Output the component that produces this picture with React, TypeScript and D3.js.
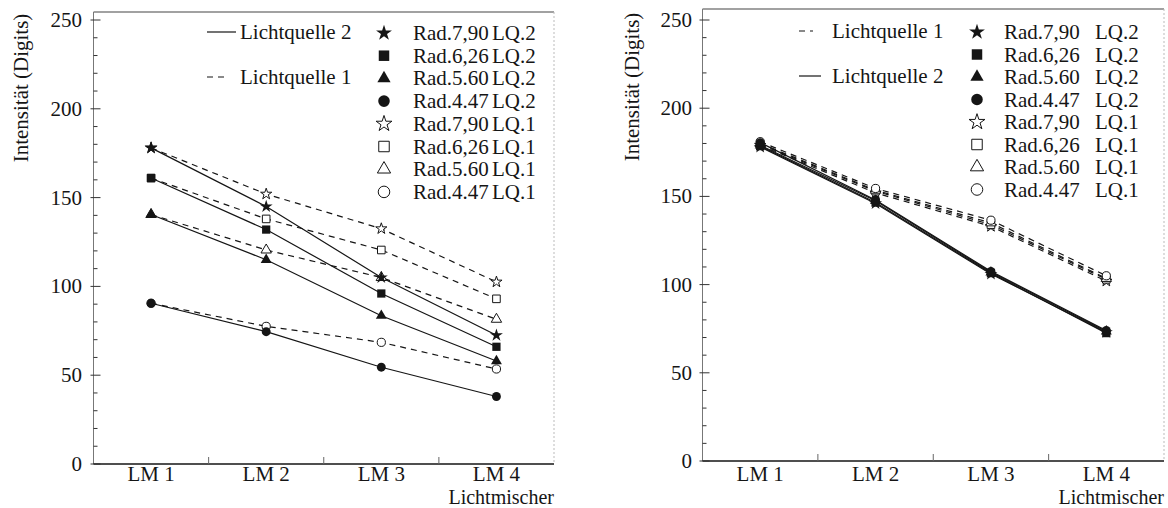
import React, { useEffect } from "react";
import * as d3 from "d3";

// ---------- data ----------
const categories = ["LM 1", "LM 2", "LM 3", "LM 4"];
const radiusLabels = ["Rad.7,90", "Rad.6,26", "Rad.5.60", "Rad.4.47"];
const yMajorTicks = [0, 50, 100, 150, 200, 250];
const yMinorTicks = [10, 20, 30, 40, 60, 70, 80, 90, 110, 120, 130, 140, 160, 170, 180, 190, 210, 220, 230, 240];

// left panel – Lichtquelle 2 (solid, filled markers)
const leftLQ2_790 = [178, 145, 105, 72.5];
const leftLQ2_626 = [161, 132, 96, 66];
const leftLQ2_560 = [140.5, 115, 83.5, 58];
const leftLQ2_447 = [90.5, 74.5, 54.5, 38];
// left panel – Lichtquelle 1 (dashed, open markers)
const leftLQ1_790 = [178, 152, 132.5, 102.5];
const leftLQ1_626 = [161, 138, 120.5, 93];
const leftLQ1_560 = [140.5, 120.5, 105, 81.5];
const leftLQ1_447 = [90.5, 77.5, 68.5, 53.5];

// right panel – Lichtquelle 2 (solid, filled markers)
const rightLQ2_790 = [178, 146, 106, 73];
const rightLQ2_626 = [178.5, 146.5, 106.5, 72.5];
const rightLQ2_560 = [179, 147.5, 107, 73.5];
const rightLQ2_447 = [180.5, 148, 107.5, 74];
// right panel – Lichtquelle 1 (dashed, open markers)
const rightLQ1_790 = [179, 152, 133, 102];
const rightLQ1_626 = [179.5, 153, 134, 103];
const rightLQ1_560 = [180, 153.5, 135, 103.5];
const rightLQ1_447 = [181, 154.5, 136.5, 105];

const legendLineLabels = ["Lichtquelle 2", "Lichtquelle 1"];

// ---------- styling ----------
const FONT = "'Times New Roman', 'Liberation Serif', 'DejaVu Serif', serif";
const FS = 21;
const INK = "#151515";
const symbolTypes = [d3.symbolStar, d3.symbolSquare, d3.symbolTriangle, d3.symbolCircle];
const plotSizes = [52, 68, 52, 62];
const openScale = [0.75, 0.85, 0.9, 0.85];
const legendSizes = [78, 110, 76, 105];

type Layout = {
  x0: number; x1: number; yZero: number; y250: number; frameTop: number;
  yLabelX: number; titleX: number; titleY: number;
  catLabelY: number; xTitleY: number;
  legLineX0: number; legLineX1: number; legTextX: number;
  legFirstY: number; legSecondY: number; firstDashed: boolean;
  symX: number; radX: number; lqX: number; rowY0: number; rowDy: number;
};

const leftLayout: Layout = {
  x0: 93.5, x1: 554, yZero: 464, y250: 20, frameTop: 12,
  yLabelX: 82, titleX: 21, titleY: 88,
  catLabelY: 481, xTitleY: 503.5,
  legLineX0: 207, legLineX1: 236, legTextX: 240,
  legFirstY: 32, legSecondY: 77, firstDashed: false,
  symX: 384, radX: 413, lqX: 492, rowY0: 33, rowDy: 22.7,
};

const rightLayout: Layout = {
  x0: 702.5, x1: 1164, yZero: 461, y250: 20, frameTop: 9,
  yLabelX: 692, titleX: 632, titleY: 87,
  catLabelY: 481, xTitleY: 503.5,
  legLineX0: 799, legLineX1: 821, legTextX: 832,
  legFirstY: 31, legSecondY: 76, firstDashed: true,
  symX: 977, radX: 1004, lqX: 1095, rowY0: 32, rowDy: 22.5,
};

type PanelProps = { layout: Layout; lq2: number[][]; lq1: number[][] };

function Panel({ layout: L, lq2, lq1 }: PanelProps) {
  const x = d3.scaleBand<string>().domain(categories).range([L.x0, L.x1]);
  const y = d3.scaleLinear().domain([0, 250]).range([L.yZero, L.y250]);
  const cx = (i: number) => (x(categories[i]) as number) + x.bandwidth() / 2;
  const line = d3
    .line<number>()
    .x((_, i) => cx(i))
    .y((d) => y(d));
  const boundaries = categories.slice(1).map((c) => x(c) as number);
  const sym = (t: d3.SymbolType, s: number) => d3.symbol().type(t).size(s)() as string;

  const legendLine = (yy: number, dashed: boolean, label: string) => (
    <g>
      {dashed ? (
        <line x1={L.legLineX0} x2={L.legLineX1 - 8} y1={yy} y2={yy} stroke={INK} strokeWidth={1.2} strokeDasharray="6,5" />
      ) : (
        <line x1={L.legLineX0} x2={L.legLineX1} y1={yy} y2={yy} stroke={INK} strokeWidth={1.2} />
      )}
      <text x={L.legTextX} y={yy + 7}>{label}</text>
    </g>
  );

  return (
    <g style={{ fontFamily: FONT, fontSize: FS }} fill={INK}>
      {/* frame */}
      <line x1={L.x0} x2={L.x1} y1={L.frameTop} y2={L.frameTop} stroke="#444" strokeWidth={1.2} />
      <line x1={L.x1} x2={L.x1} y1={L.frameTop} y2={L.yZero} stroke="#bbb" strokeWidth={1} strokeDasharray="2,2" />
      <line x1={L.x0} x2={L.x0} y1={L.frameTop} y2={L.yZero} stroke="#777" strokeWidth={1} />
      <line x1={L.x0} x2={L.x1} y1={L.yZero} y2={L.yZero} stroke={INK} strokeWidth={1.6} />

      {/* y ticks */}
      {yMajorTicks.map((t) => (
        <g key={"M" + t}>
          <line x1={L.x0 - 3} x2={L.x0 + 7} y1={y(t)} y2={y(t)} stroke="#333" strokeWidth={1} />
          <text x={L.yLabelX} y={y(t) + 7} textAnchor="end">{t}</text>
        </g>
      ))}
      {yMinorTicks.map((t) => (
        <line key={"m" + t} x1={L.x0} x2={L.x0 + 4} y1={y(t)} y2={y(t)} stroke="#333" strokeWidth={1} />
      ))}

      {/* x ticks */}
      {boundaries.map((b) => (
        <line key={b} x1={b} x2={b} y1={L.yZero} y2={L.yZero - 7} stroke="#666" strokeWidth={1} />
      ))}
      {categories.map((c, i) => (
        <text key={c} x={cx(i)} y={L.catLabelY} textAnchor="middle">{c}</text>
      ))}
      <text x={L.x1} y={L.xTitleY} textAnchor="end" style={{ fontSize: 20 }}>Lichtmischer</text>

      {/* y title */}
      <text
        transform={`translate(${L.titleX},${L.titleY}) rotate(-90)`}
        textAnchor="middle"
        dominantBaseline="central"
      >
        Intensität (Digits)
      </text>

      {/* lines */}
      {lq1.map((s, k) => (
        <path key={"d" + k} d={line(s) as string} fill="none" stroke={INK} strokeWidth={1.2} strokeDasharray="6,5" />
      ))}
      {lq2.map((s, k) => (
        <path key={"s" + k} d={line(s) as string} fill="none" stroke={INK} strokeWidth={1.2} />
      ))}

      {/* markers */}
      {lq1.map((s, k) =>
        s.map((v, i) => (
          <path
            key={"o" + k + i}
            d={sym(symbolTypes[k], plotSizes[k] * openScale[k])}
            transform={`translate(${cx(i)},${y(v)})`}
            fill="#fff"
            stroke={INK}
            strokeWidth={1}
          />
        ))
      )}
      {lq2.map((s, k) =>
        s.map((v, i) => (
          <path
            key={"f" + k + i}
            d={sym(symbolTypes[k], plotSizes[k])}
            transform={`translate(${cx(i)},${y(v)})`}
            fill={INK}
            stroke="none"
          />
        ))
      )}

      {/* legend: line styles */}
      {legendLine(L.legFirstY, L.firstDashed, L.firstDashed ? legendLineLabels[1] : legendLineLabels[0])}
      {legendLine(L.legSecondY, !L.firstDashed, L.firstDashed ? legendLineLabels[0] : legendLineLabels[1])}

      {/* legend: symbols */}
      {[0, 1].map((grp) =>
        radiusLabels.map((r, k) => {
          const row = grp * 4 + k;
          const yy = L.rowY0 + row * L.rowDy;
          const filled = grp === 0;
          return (
            <g key={"l" + row}>
              <path
                d={sym(symbolTypes[k], legendSizes[k])}
                transform={`translate(${L.symX},${yy})`}
                fill={filled ? INK : "#fff"}
                stroke={filled ? "none" : INK}
                strokeWidth={1}
              />
              <text x={L.radX} y={yy + 7}>{r}</text>
              <text x={L.lqX} y={yy + 7}>{filled ? "LQ.2" : "LQ.1"}</text>
            </g>
          );
        })
      )}
    </g>
  );
}

export default function App() {
  useEffect(() => {
    document.body.style.margin = "0";
  }, []);
  return (
    <svg
      width={1168}
      height={508}
      style={{ position: "absolute", left: 0, top: 0, background: "#fff" }}
    >
      <rect width={1168} height={508} fill="#fff" />
      <Panel
        layout={leftLayout}
        lq2={[leftLQ2_790, leftLQ2_626, leftLQ2_560, leftLQ2_447]}
        lq1={[leftLQ1_790, leftLQ1_626, leftLQ1_560, leftLQ1_447]}
      />
      <Panel
        layout={rightLayout}
        lq2={[rightLQ2_790, rightLQ2_626, rightLQ2_560, rightLQ2_447]}
        lq1={[rightLQ1_790, rightLQ1_626, rightLQ1_560, rightLQ1_447]}
      />
    </svg>
  );
}
